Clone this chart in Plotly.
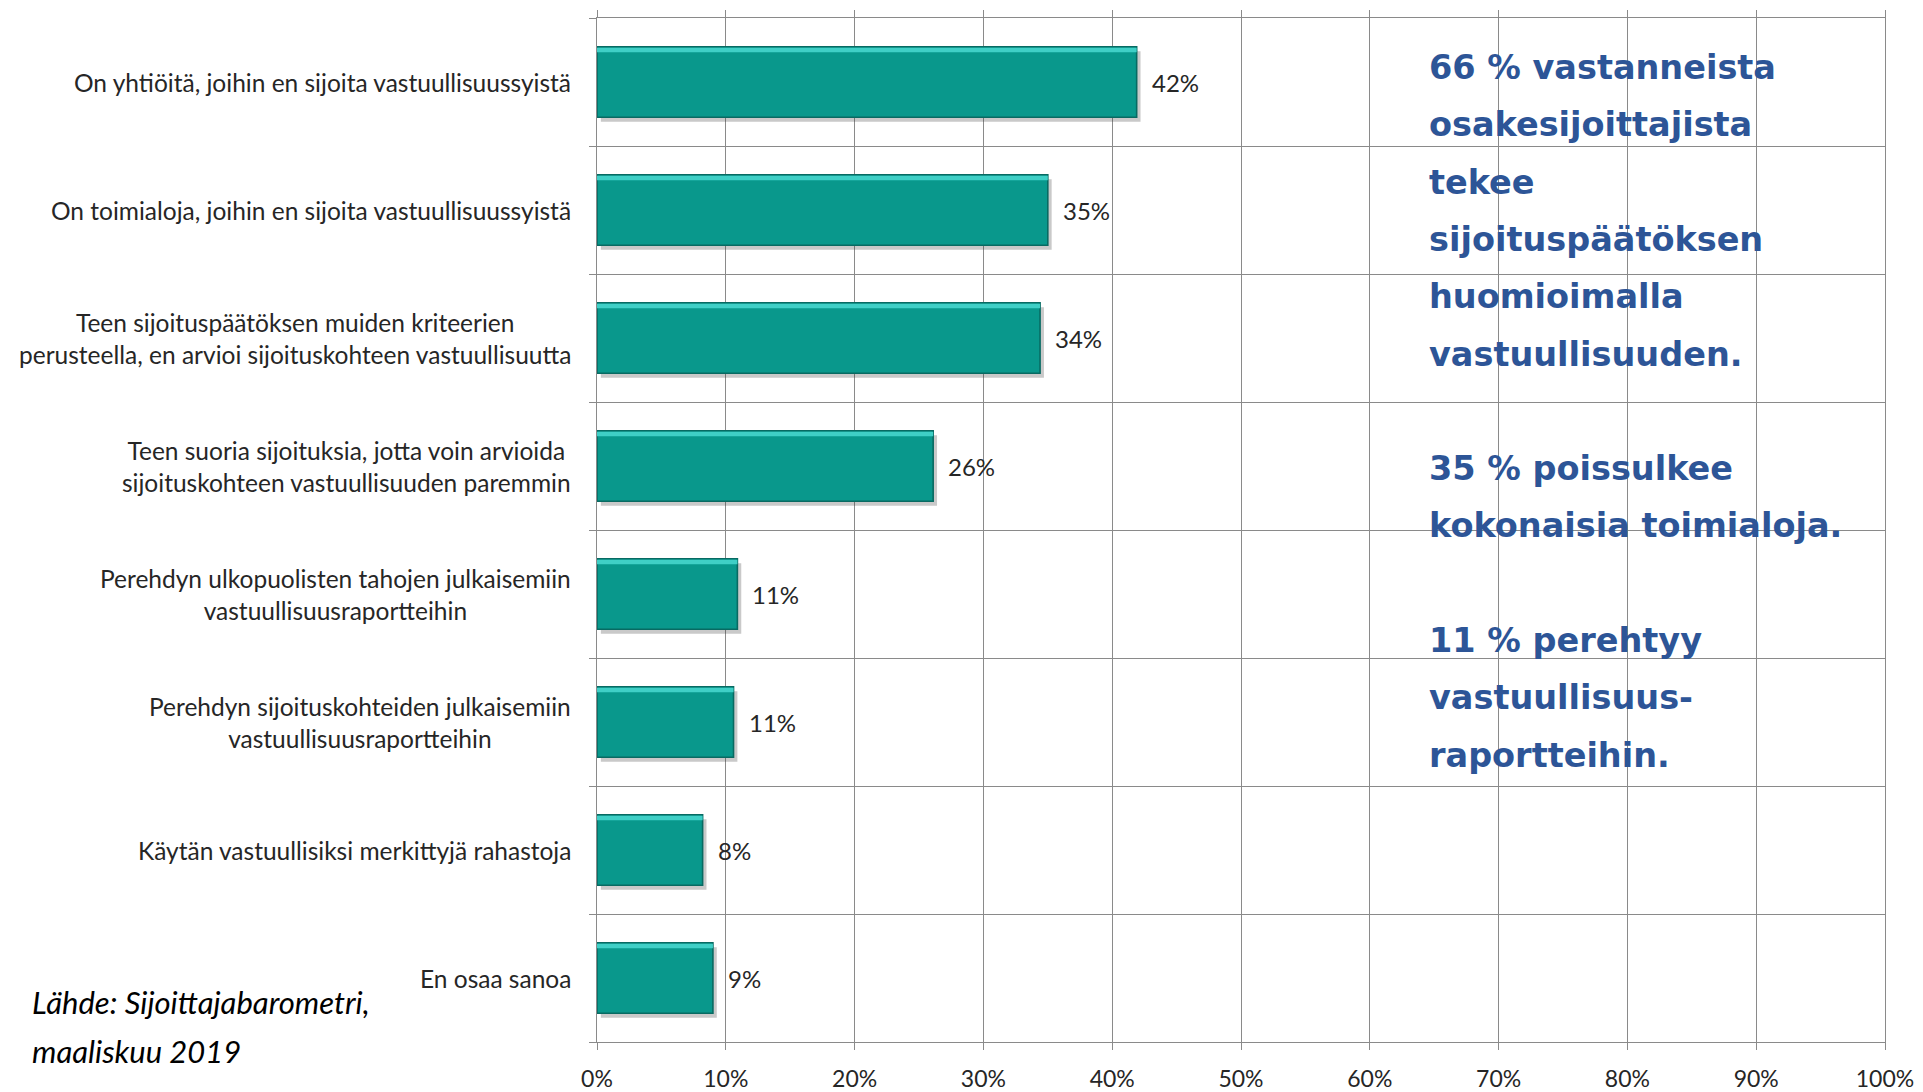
import plotly.graph_objects as go

categories = [
    "On yhtiöitä, joihin en sijoita vastuullisuussyistä",
    "On toimialoja, joihin en sijoita vastuullisuussyistä",
    "Teen sijoituspäätöksen muiden kriteerien<br>perusteella, en arvioi sijoituskohteen vastuullisuutta",
    "Teen suoria sijoituksia, jotta voin arvioida<br>sijoituskohteen vastuullisuuden paremmin",
    "Perehdyn ulkopuolisten tahojen julkaisemiin<br>vastuullisuusraportteihin",
    "Perehdyn sijoituskohteiden julkaisemiin<br>vastuullisuusraportteihin",
    "Käytän vastuullisiksi merkittyjä rahastoja",
    "En osaa sanoa",
]
values = [41.9, 35.0, 34.4, 26.1, 10.9, 10.6, 8.2, 9.0]
value_labels = ["42%", "35%", "34%", "26%", "11%", "11%", "8%", "9%"]
x_ticks = [0, 10, 20, 30, 40, 50, 60, 70, 80, 90, 100]
x_ticktext = ["0%", "10%", "20%", "30%", "40%", "50%", "60%", "70%", "80%", "90%", "100%"]
side_text = [
    "66 % vastanneista",
    "osakesijoittajista",
    "tekee",
    "sijoituspäätöksen",
    "huomioimalla",
    "vastuullisuuden.",
    "",
    "35 % poissulkee",
    "kokonaisia toimialoja.",
    "",
    "11 % perehtyy",
    "vastuullisuus-",
    "raportteihin.",
]
source_text = ["Lähde: Sijoittajabarometri,", "maaliskuu 2019"]

W, H = 1923, 1092
ML, MR, MT, MB = 597, 38, 18, 50
PW, PH = W - ML - MR, H - MT - MB

def px_to_paper_y(py):
    return 1 - (py - MT) / PH

def px_to_paper_x(px):
    return (px - ML) / PW

GRID = "#8a8a8a"
n = len(categories)
ypos = list(range(n))
BW = 0.55

fig = go.Figure()
# soft drop shadow behind the bars
fig.add_trace(go.Bar(
    x=values, y=ypos, orientation="h", base=0.3,
    marker=dict(color="rgba(60,60,60,0.28)", line=dict(width=0)),
    width=BW, offset=-BW / 2 + 0.035, hoverinfo="skip",
))
# main bars
fig.add_trace(go.Bar(
    x=values, y=ypos, orientation="h",
    marker=dict(color="#09988c", line=dict(color="#086a62", width=1.6)),
    width=BW, offset=-BW / 2, hoverinfo="skip",
))
# light bevel highlight along the top edge
fig.add_trace(go.Bar(
    x=values, y=ypos, orientation="h",
    marker=dict(color="#3fcfc6", line=dict(width=0)),
    width=0.035, offset=-BW / 2 + 0.008, hoverinfo="skip",
))

annotations = []
for i, (cat, v, lab) in enumerate(zip(categories, values, value_labels)):
    annotations.append(dict(
        x=0, y=i, xref="x", yref="y", text=cat, showarrow=False,
        xanchor="right", yanchor="middle", align="center", xshift=-24,
        font=dict(family="Lato", size=24.5, color="#262626"),
    ))
    annotations.append(dict(
        x=v, y=i, xref="x", yref="y", text=lab, showarrow=False,
        xanchor="left", yanchor="middle", xshift=13,
        font=dict(family="Lato", size=24, color="#262626"),
    ))

for k, line in enumerate(side_text):
    if not line:
        continue
    annotations.append(dict(
        x=px_to_paper_x(1427), y=px_to_paper_y(67.5 + 57.3 * k),
        xref="paper", yref="paper", text=line, showarrow=False,
        xanchor="left", yanchor="middle",
        font=dict(family="DejaVu Sans", size=33.5, color="#2d5597", weight="bold"),
    ))

for k, line in enumerate(source_text):
    annotations.append(dict(
        x=px_to_paper_x(30), y=px_to_paper_y(1002 + 49 * k),
        xref="paper", yref="paper", text="<i>" + line + "</i>", showarrow=False,
        xanchor="left", yanchor="middle",
        font=dict(family="Lato", size=31, color="#000000"),
    ))

fig.update_layout(
    width=W, height=H,
    margin=dict(l=ML, r=MR, t=MT, b=MB, autoexpand=False),
    paper_bgcolor="white", plot_bgcolor="white",
    showlegend=False, barmode="overlay",
    annotations=annotations,
    xaxis=dict(
        range=[0, 100], tickvals=x_ticks, ticktext=x_ticktext,
        showgrid=True, gridcolor=GRID, gridwidth=1.3,
        zeroline=False, showline=True, linecolor=GRID, linewidth=1.3,
        mirror="ticks", ticks="outside", ticklen=7, tickcolor=GRID, tickwidth=1.3,
        tickfont=dict(family="Lato", size=23, color="#262626"),
        ticklabelstandoff=9, automargin=False,
    ),
    yaxis=dict(
        range=[n - 0.5, -0.5],
        tickvals=[i - 0.5 for i in range(n + 1)],
        ticktext=["" for _ in range(n + 1)],
        showgrid=True, gridcolor=GRID, gridwidth=1.3,
        zeroline=False, showline=True, linecolor=GRID, linewidth=1.3, mirror=True,
        ticks="outside", ticklen=7, tickcolor=GRID, tickwidth=1.3,
        automargin=False,
    ),
)

fig.write_html("out.html")
